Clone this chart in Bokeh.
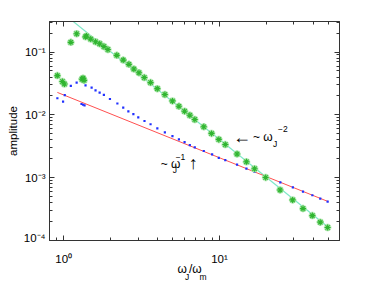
from bokeh.plotting import figure
from bokeh.models import (LogAxis, FixedTicker, CustomJSTickFormatter, Label, Range1d)
from bokeh.layouts import column
from bokeh.core.properties import value
from bokeh.embed import file_html
from bokeh.resources import INLINE

# ---- data ----
green_x = [0.91, 0.98, 1.01, 1.11, 1.21, 1.31, 1.33, 1.35, 1.38, 1.40, 1.49, 1.60, 1.70, 1.81,
           1.92, 2.19, 2.41, 2.62, 2.82, 3.04, 3.29, 3.61, 3.99, 4.46, 4.99, 5.49, 5.97, 6.45,
           6.94, 7.93, 8.89, 9.9, 10.9, 12.97, 14.9, 16.8, 19.8, 24.5, 29.5, 34.4, 39.5, 44.4, 49.5]
green_y = [0.0422, 0.034, 0.031, 0.143, 0.196, 0.037, 0.0385, 0.0355, 0.175, 0.18, 0.161, 0.146,
           0.136, 0.123, 0.11, 0.0887, 0.0746, 0.0638, 0.0537, 0.047, 0.0393, 0.0327, 0.0262,
           0.0211, 0.0167, 0.0137, 0.01146, 0.00989, 0.00845, 0.00646, 0.00507, 0.00407, 0.00337,
           0.00238, 0.00179, 0.00139, 0.00101, 6.38e-4, 4.43e-4, 3.22e-4, 2.49e-4, 1.96e-4, 1.61e-4]

blue_x = [0.91, 0.99, 1.015, 1.11, 1.21, 1.30, 1.33, 1.36, 1.38, 1.51, 1.60, 1.70, 1.81, 1.98,
          2.21, 2.41, 2.60, 2.80, 3.01, 3.30, 3.61, 3.99, 4.46, 4.99, 5.49, 5.97, 6.45, 6.94,
          7.93, 8.97, 9.9, 10.9, 12.97, 14.9, 16.8, 19.8, 24.6, 29.6, 34.4, 39.5, 44.4, 49.5]
blue_y = [0.0184, 0.0163, 0.0206, 0.0289, 0.0327, 0.0149, 0.0145, 0.0142, 0.0296, 0.0272, 0.0246,
          0.0227, 0.0208, 0.0179, 0.0152, 0.0131, 0.0114, 0.0103, 0.0091, 0.0080, 0.0071, 0.00608,
          0.00525, 0.00459, 0.00407, 0.00369, 0.00331, 0.00304, 0.00266, 0.00235, 0.00207, 0.00191,
          0.00161, 0.00139, 0.00124, 0.00105, 8.4e-4, 7.0e-4, 6.0e-4, 5.25e-4, 4.65e-4, 4.17e-4]

fit2_x = [1.1, 50.0]          # ~ omega^-2 guide
fit2_y = [0.336, 1.63e-4]
fit1_x = [0.91, 50.0]         # ~ omega^-1 guide
fit1_y = [0.0228, 4.16e-4]

x_range = (0.81, 59.0)
y_range = (1e-4, 0.307)
x_major = [1, 10]
x_minor = [0.9, 2, 3, 4, 5, 6, 7, 8, 9, 20, 30, 40, 50]
y_major = [1e-4, 1e-3, 1e-2, 1e-1]
y_minor = [m * 10.0 ** e for e in (-4, -3, -2, -1) for m in range(2, 10)]

FONT = "Liberation Sans"
TXT = "\ufe0e"   # text-presentation selector, keeps arrows monochrome
W = 365
LEFT, RIGHT = 49, 26

SUP = {"-": "\u207b", "0": "\u2070", "1": "\u00b9", "2": "\u00b2", "3": "\u00b3",
       "4": "\u2074", "5": "\u2075", "6": "\u2076", "7": "\u2077", "8": "\u2078", "9": "\u2079"}

def pow_label(v):
    import math
    e = int(round(math.log10(v)))
    return "10" + "".join(SUP[c] for c in str(e))

xr = Range1d(*x_range)
p = figure(width=W, height=243, x_axis_type="log", y_axis_type="log",
           output_backend="svg", toolbar_location=None,
           x_range=xr, y_range=Range1d(*y_range))
p.min_border = 0
p.min_border_left = LEFT
p.min_border_right = RIGHT
p.min_border_top = 21
p.min_border_bottom = 3
p.grid.visible = False
p.outline_line_color = "#333333"

sup_code = """
const m = {"-":"\u207b","0":"\u2070","1":"\u00b9","2":"\u00b2","3":"\u00b3","4":"\u2074",
           "5":"\u2075","6":"\u2076","7":"\u2077","8":"\u2078","9":"\u2079"};
const e = Math.round(Math.log10(tick));
return "10" + String(e).split("").map(c => m[c]).join("");
"""

def style_axis(ax, major, minor, labels=True):
    ax.ticker = FixedTicker(ticks=major, minor_ticks=minor)
    ax.axis_line_color = "#333333"
    ax.major_tick_line_color = "#333333"
    ax.minor_tick_line_color = "#333333"
    ax.major_tick_in = 5
    ax.major_tick_out = 0
    ax.minor_tick_in = 3
    ax.minor_tick_out = 0
    ax.major_label_text_font = FONT
    ax.major_label_text_font_size = "11.5px"
    ax.major_label_text_color = "black"
    if labels:
        ax.formatter = CustomJSTickFormatter(code=sup_code)
    else:
        ax.formatter = CustomJSTickFormatter(code="return '';")
        ax.major_label_text_font_size = "0px"
        ax.major_label_standoff = 0

style_axis(p.xaxis[0], x_major, x_minor, labels=False)
style_axis(p.yaxis[0], y_major, y_minor)
p.yaxis[0].major_label_standoff = 4
p.yaxis[0].axis_label = "amplitude"
p.yaxis[0].axis_label_text_font = FONT
p.yaxis[0].axis_label_text_font_size = "11.5px"
p.yaxis[0].axis_label_text_font_style = "normal"
p.yaxis[0].axis_label_text_color = "black"
p.yaxis[0].axis_label_standoff = 2

top = LogAxis()
right = LogAxis()
style_axis(top, x_major, x_minor, labels=False)
style_axis(right, y_major, y_minor, labels=False)
p.add_layout(top, "above")
p.add_layout(right, "right")

# guide lines
p.line(fit2_x, fit2_y, line_color="#7fe8c8", line_width=1.2)
p.line(fit1_x, fit1_y, line_color="#ff5050", line_width=1.0)

# blue dots
p.scatter(blue_x, blue_y, marker="square", size=2.2, fill_color="#2030ff",
          line_color=None)

# green stars (soft halo + star)
p.scatter(green_x, green_y, marker="asterisk", size=7.5, line_color="#a6e4a6",
          line_width=2.2)
p.scatter(green_x, green_y, marker="asterisk", size=6, line_color="#30b530",
          line_width=1.1)

def lab(x, y, text, size="12px", dx=0, dy=0):
    p.add_layout(Label(x=x, y=y, text=text, x_offset=dx, y_offset=dy,
                       text_font=FONT, text_font_size=size, text_color="black",
                       text_align="left", text_baseline="middle"))

# "<- ~ omega_J^-2"
a2 = (12.4, 0.00443)
lab(*a2, "\u2190" + TXT, size="18px", dx=-1)
lab(*a2, "~ \u03c9", dx=19)
lab(*a2, "J", size="8.5px", dx=39, dy=-7)
lab(*a2, "\u22122", size="8.5px", dx=44, dy=8)

# "~ omega_J^-1 ^"
a1 = (4.19, 0.00165)
lab(*a1, "~ \u03c9")
lab(*a1, "J", size="8.5px", dx=12, dy=-6)
lab(*a1, "\u22121", size="8.5px", dx=15, dy=7)
lab(*a1, "\u2191" + TXT, size="18px", dx=28, dy=1)

# ---- strip under the plot: x tick labels and x-axis label ----
QH = 38
q = figure(width=W, height=QH, x_axis_type="log", output_backend="svg",
           toolbar_location=None, x_axis_location=None, y_axis_location=None,
           x_range=xr, y_range=Range1d(QH, 0))
q.min_border = 0
q.min_border_left = LEFT
q.min_border_right = RIGHT
q.grid.visible = False
q.outline_line_color = None

q.text(x=x_major, y=[15] * len(x_major), text=[pow_label(v) for v in x_major],
       text_font=value(FONT), text_font_size=value("11.5px"), text_color="black",
       text_align="center", text_baseline="alphabetic")

xl_text = ["\u03c9", "J", "/\u03c9", "m"]
xl_x = [177 - LEFT, 184.5 - LEFT, 188.5 - LEFT, 199 - LEFT]   # screen px from frame left
xl_y = [25.5, 33, 25.5, 33]
xl_size = ["12px", "8.5px", "12px", "8.5px"]
for t, xx, yy, s in zip(xl_text, xl_x, xl_y, xl_size):
    q.add_layout(Label(x=xx, y=yy, x_units="screen", y_units="data", text=t,
                       text_font=FONT, text_font_size=s, text_color="black",
                       text_align="left", text_baseline="alphabetic"))

layout = column(p, q, spacing=0)
open("out.html", "w").write(file_html(layout, INLINE))
